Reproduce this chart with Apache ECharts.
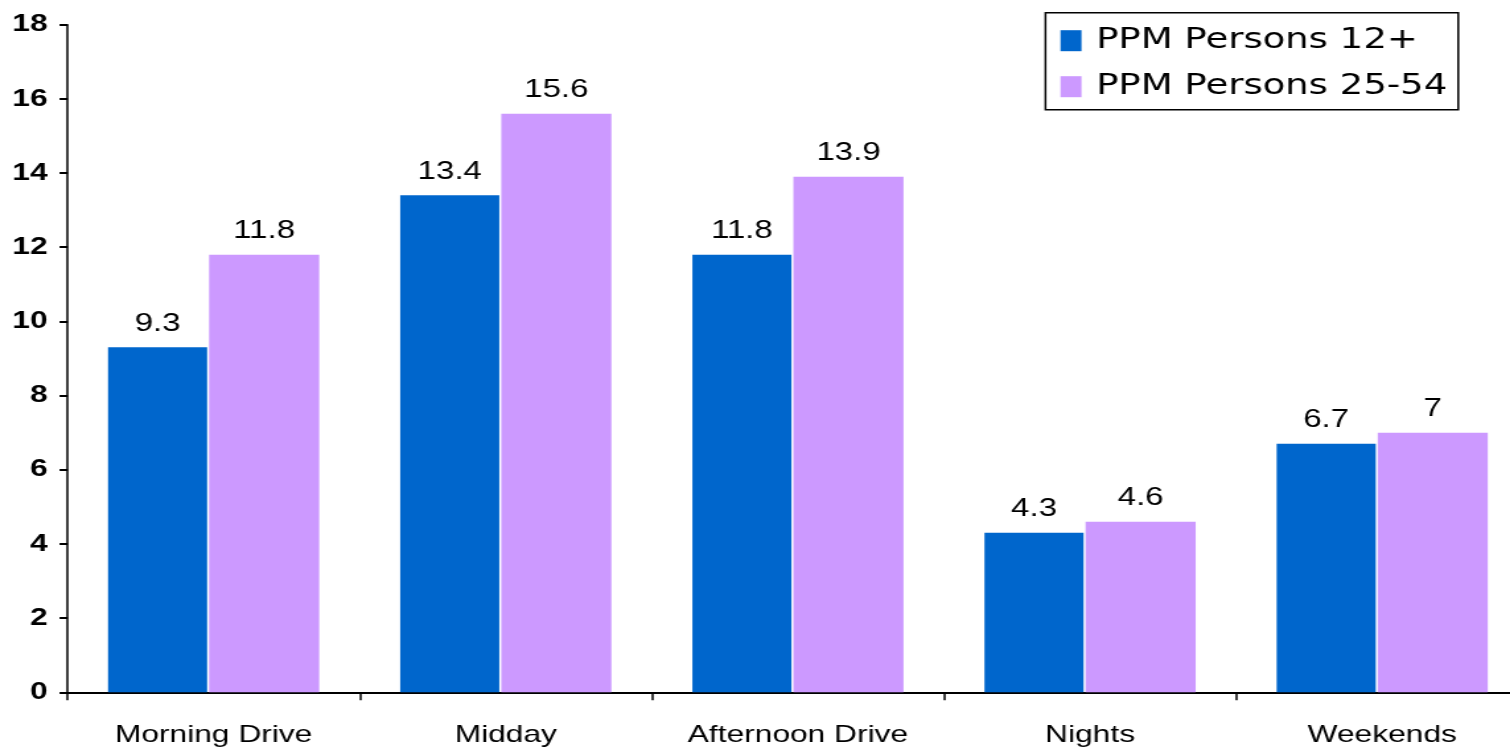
<!DOCTYPE html>
<html>
<head>
<meta charset="utf-8">
<script src="https://cdn.jsdelivr.net/npm/echarts@6/dist/echarts.min.js"></script>
<style>
  html, body { margin: 0; padding: 0; background: #fff; overflow: hidden; }
  #wrap { width: 1510px; height: 749px; overflow: hidden; position: relative; }
  #chart { position: absolute; left: 0; top: 0; height: 749px; transform-origin: 0 0; }
</style>
</head>
<body>
<div id="wrap"><div id="chart"></div></div>
<script>
// ---- data ----
const categories = ['Morning Drive', 'Midday', 'Afternoon Drive', 'Nights', 'Weekends'];
const seriesNames = ['PPM Persons 12+', 'PPM Persons 25-54'];
const persons12 = [9.3, 13.4, 11.8, 4.3, 6.7];
const persons2554 = [11.8, 15.6, 13.9, 4.6, 7];
const yMin = 0, yMax = 18, yStep = 2;

// the reference picture is horizontally stretched; reproduce that stretch
const S = 1.32;
const W = 1560 / S;           // canvas a bit wider than the window: plot area runs past the right edge
const el = document.getElementById('chart');
el.style.width = W + 'px';
el.style.transform = 'scaleX(' + S + ')';

const chart = echarts.init(el, null, { renderer: 'canvas', width: W, height: 749 });
const fx = v => v / S;

chart.setOption({
  backgroundColor: '#ffffff',
  animation: false,
  grid: { left: fx(67.5), right: W - fx(1527), top: 24.7, bottom: 749 - 692.3, containLabel: false },
  legend: {
    right: W - fx(1457), top: 12.7,
    orient: 'vertical',
    backgroundColor: '#ffffff',
    borderColor: '#000000',
    borderWidth: 1.5,
    padding: [14, fx(11), 9, fx(15)],
    itemWidth: fx(21), itemHeight: 21,
    itemGap: 18,
    icon: 'rect',
    textStyle: { fontFamily: 'DejaVu Sans', fontSize: 28, color: '#000', padding: [0, 0, 0, fx(8)] },
    data: seriesNames
  },
  xAxis: {
    type: 'category',
    data: categories,
    axisLine: { lineStyle: { color: '#000', width: 2 } },
    axisTick: { show: true, length: 8, lineStyle: { color: '#000', width: fx(2) } },
    axisLabel: { color: '#000', fontFamily: 'Liberation Sans', fontSize: 24, margin: 31, interval: 0 },
    splitLine: { show: false }
  },
  yAxis: {
    type: 'value',
    min: yMin, max: yMax, interval: yStep,
    axisLine: { show: true, lineStyle: { color: '#000', width: fx(2) } },
    axisTick: { show: true, length: fx(8), lineStyle: { color: '#000', width: 2 } },
    axisLabel: { color: '#000', fontFamily: 'Liberation Sans', fontWeight: 'bold', fontSize: 24, margin: fx(20) },
    splitLine: { show: false }
  },
  series: [
    {
      name: seriesNames[0], type: 'bar', data: persons12,
      barWidth: fx(99), barGap: '2%',
      itemStyle: { color: '#0066CC' },
      label: { show: true, position: 'top', distance: 11, color: '#000', fontFamily: 'Liberation Sans', fontSize: 25 }
    },
    {
      name: seriesNames[1], type: 'bar', data: persons2554,
      barWidth: fx(110), barGap: '2%',
      itemStyle: { color: '#CC99FF' },
      label: { show: true, position: 'top', distance: 11, color: '#000', fontFamily: 'Liberation Sans', fontSize: 25 }
    }
  ]
});
</script>
</body>
</html>
